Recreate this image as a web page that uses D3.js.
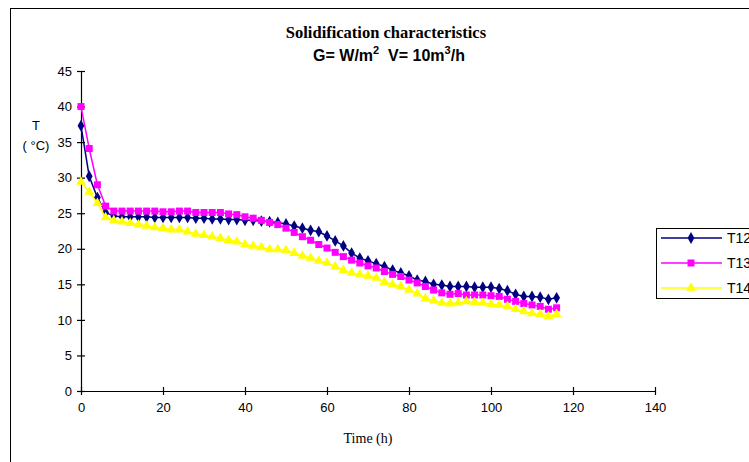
<!DOCTYPE html>
<html>
<head>
<meta charset="utf-8">
<script src="https://cdn.jsdelivr.net/npm/d3@7"></script>
<style>
  body { margin: 0; background: #fff; }
  svg { display: block; }
</style>
</head>
<body>
<div class="chart"></div>
<script>
// hours, one reading every 2 h
const hours = d3.range(0, 117, 2);

const t12 = [37.3, 30.2, 27.2, 25.1, 24.6, 24.5, 24.5, 24.5, 24.5, 24.4,
  24.4, 24.4, 24.4, 24.4, 24.3, 24.3, 24.2, 24.2, 24.1, 24.1,
  24.0, 24.0, 23.9, 23.8, 23.7, 23.5, 23.2, 22.9, 22.6, 22.4,
  21.8, 21.1, 20.4, 19.4, 18.7, 18.3, 17.9, 17.5, 17.0, 16.6,
  16.2, 15.6, 15.4, 15.0, 14.9, 14.7, 14.7, 14.7, 14.6, 14.6,
  14.6, 14.4, 14.1, 13.6, 13.3, 13.3, 13.2, 12.9, 13.1];

const t13 = [40.0, 34.1, 29.0, 26.0, 25.3, 25.3, 25.3, 25.3, 25.3, 25.3,
  25.2, 25.2, 25.3, 25.3, 25.1, 25.1, 25.1, 25.1, 24.9, 24.8,
  24.5, 24.3, 24.0, 23.7, 23.4, 22.9, 22.3, 21.7, 21.2, 20.6,
  20.1, 19.5, 18.9, 18.4, 18.0, 17.6, 17.3, 16.8, 16.4, 16.1,
  15.6, 15.2, 14.7, 14.2, 13.8, 13.6, 13.7, 13.5, 13.5, 13.5,
  13.4, 13.3, 12.9, 12.6, 12.3, 12.1, 11.9, 11.5, 11.7];

const t14 = [29.4, 28.0, 26.4, 24.4, 24.0, 23.8, 23.6, 23.4, 23.2, 23.0,
  22.9, 22.7, 22.7, 22.4, 22.1, 21.9, 21.7, 21.5, 21.2, 21.0,
  20.6, 20.4, 20.2, 19.9, 19.9, 19.8, 19.4, 19.0, 18.7, 18.3,
  18.0, 17.5, 17.0, 16.6, 16.4, 16.2, 15.9, 15.3, 15.0, 14.7,
  14.2, 13.7, 13.0, 12.7, 12.4, 12.3, 12.4, 12.6, 12.5, 12.4,
  12.2, 12.1, 11.9, 11.5, 11.2, 10.9, 10.8, 10.5, 10.8];

const seriesNames = ["T12", "T13", "T14"];
const xTicks = [0, 20, 40, 60, 80, 100, 120, 140];
const yTicks = [0, 5, 10, 15, 20, 25, 30, 35, 40, 45];

const series = [
  {name: seriesNames[0], values: t12, color: "#000080", symbol: d3.symbolDiamond, size: 40},
  {name: seriesNames[1], values: t13, color: "#ff00ff", symbol: d3.symbolSquare, size: 49},
  {name: seriesNames[2], values: t14, color: "#ffff00", symbol: d3.symbolTriangle, size: 42}
];

const W = 749, H = 462;
const svg = d3.select(".chart").append("svg")
  .attr("width", W)
  .attr("height", H);

// chart area border (runs off the right and bottom edges)
svg.append("rect")
  .attr("x", 10.5).attr("y", 8.5)
  .attr("width", 900).attr("height", 600)
  .attr("fill", "#fff")
  .attr("stroke", "#000")
  .attr("stroke-width", 1);

const x = d3.scaleLinear().domain([0, 140]).range([81, 655]);
const y = d3.scaleLinear().domain([0, 45]).range([391, 71]);

const yAxis = d3.axisLeft(y).tickValues(yTicks).tickSize(4).tickPadding(5).tickSizeOuter(0);
const xAxis = d3.axisBottom(x).tickValues(xTicks).tickSize(4).tickPadding(8).tickSizeOuter(0);

svg.append("g")
  .attr("class", "axis y-axis")
  .attr("transform", `translate(${x(0)},0)`)
  .call(yAxis)
  .call(g => g.selectAll(".tick line").attr("x1", 4))
  .call(g => g.select(".domain").attr("stroke", "#000"))
  .call(g => g.selectAll("text")
    .attr("font-family", "Liberation Sans, Arial, sans-serif")
    .attr("font-size", 13).attr("fill", "#000"));

svg.append("g")
  .attr("class", "axis x-axis")
  .attr("transform", `translate(0,${y(0)})`)
  .call(xAxis)
  .call(g => g.selectAll(".tick line").attr("y1", -4))
  .call(g => g.select(".domain").attr("stroke", "#000"))
  .call(g => g.selectAll("text")
    .attr("font-family", "Liberation Sans, Arial, sans-serif")
    .attr("font-size", 13).attr("fill", "#000"));

svg.selectAll(".axis line, .axis path").attr("stroke-width", 1.2);

// lines + markers
const line = d3.line()
  .x((d, i) => x(hours[i]))
  .y(d => y(d));

series.forEach(s => {
  const g = svg.append("g").attr("class", "series");
  g.append("path")
    .datum(s.values)
    .attr("d", line)
    .attr("fill", "none")
    .attr("stroke", s.color)
    .attr("stroke-width", 1.5);
  g.selectAll("path.mark")
    .data(s.values)
    .enter()
    .append("path")
    .attr("class", "mark")
    .attr("d", d3.symbol().type(s.symbol).size(s.size))
    .attr("transform", (d, i) => `translate(${x(hours[i])},${y(d)})`)
    .attr("fill", s.color);
});

// titles
svg.append("text")
  .attr("x", 386).attr("y", 38)
  .attr("text-anchor", "middle")
  .attr("font-family", "Liberation Serif, Times New Roman, serif")
  .attr("font-weight", "bold")
  .attr("font-size", 16.5)
  .text("Solidification characteristics");

const sub = svg.append("text")
  .attr("x", 389).attr("y", 61)
  .attr("text-anchor", "middle")
  .attr("font-family", "Liberation Sans, Arial, sans-serif")
  .attr("font-weight", "bold")
  .attr("font-size", 16);
sub.append("tspan").text("G= W/m");
sub.append("tspan").attr("dy", -7).attr("font-size", 11).text("2");
sub.append("tspan").attr("dy", 7).text("\u00a0\u00a0V= 10m");
sub.append("tspan").attr("dy", -7).attr("font-size", 11).text("3");
sub.append("tspan").attr("dy", 7).text("/h");

// axis titles
svg.append("text")
  .attr("x", 36).attr("y", 130)
  .attr("text-anchor", "middle")
  .attr("font-family", "Liberation Sans, Arial, sans-serif")
  .attr("font-size", 13)
  .text("T");
svg.append("text")
  .attr("x", 36).attr("y", 150)
  .attr("text-anchor", "middle")
  .attr("font-family", "Liberation Sans, Arial, sans-serif")
  .attr("font-size", 13)
  .text("( °C)");

svg.append("text")
  .attr("x", 368).attr("y", 443)
  .attr("text-anchor", "middle")
  .attr("font-family", "Liberation Serif, Times New Roman, serif")
  .attr("font-size", 14)
  .text("Time (h)");

// legend (clipped by the right edge, as in the source)
const lg = svg.append("g").attr("transform", "translate(656,228)");
lg.append("rect")
  .attr("x", 0.5).attr("y", 0.5)
  .attr("width", 140).attr("height", 70)
  .attr("fill", "#fff")
  .attr("stroke", "#000");

series.forEach((s, i) => {
  const row = lg.append("g").attr("transform", `translate(0,${10 + i * 25})`);
  row.append("line")
    .attr("x1", 5).attr("x2", 66)
    .attr("stroke", s.color).attr("stroke-width", 1.5);
  row.append("path")
    .attr("d", d3.symbol().type(s.symbol).size(s.size))
    .attr("transform", "translate(35,0)")
    .attr("fill", s.color);
  row.append("text")
    .attr("x", 71).attr("y", 5)
    .attr("font-family", "Liberation Sans, Arial, sans-serif")
    .attr("font-size", 14)
    .text(s.name);
});
</script>
</body>
</html>
